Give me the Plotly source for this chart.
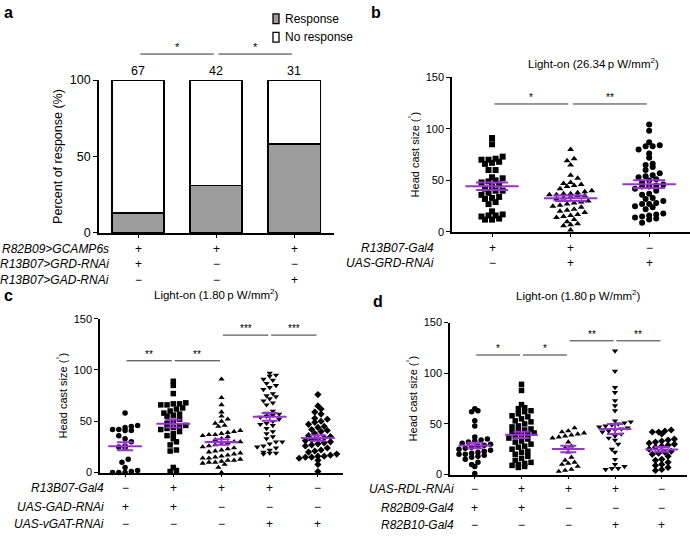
import numpy as np
import plotly.graph_objects as go

W, H = 690, 539
FONT = "Liberation Sans, Arial, Helvetica, sans-serif"
PURPLE = "#9b30d9"
GREY = "#9c9c9c"
MINUS = "\u2212"

# ---------------- data ----------------
# panel a
a_counts = [67, 42, 31]
a_response_pct = [13, 31, 58]
a_no_response_pct = [100 - v for v in a_response_pct]
a_rows = ["R82B09&gt;GCAMP6s", "R13B07&gt;GRD-RNAi", "R13B07&gt;GAD-RNAi"]
a_signs = [["+", "+", "+"], ["+", MINUS, MINUS], [MINUS, MINUS, "+"]]
a_sig = [(0, 1, 117, "*"), (1, 2, 117, "*")]

# panel b
b_title = "Light-on (26.34\u2009p W/mm<sup>2</sup>)"
b_g1 = [91, 85, 73, 71, 70, 70, 68, 67, 66, 60, 60, 53, 52, 50, 49, 48, 46, 44,
        42, 40, 40, 38, 36, 34, 33, 32, 29, 27, 20, 17, 16, 16, 15, 13, 12, 12]
b_g2 = [80, 71, 69, 65, 55, 52, 48, 47, 46, 45, 44, 42, 40, 39, 38, 37, 37, 36,
        36, 35, 35, 34, 33, 32, 30, 29, 28, 27, 26, 25, 24, 22, 21, 20, 19, 17,
        16, 15, 14, 12, 10, 8, 7, 6, 2]
b_g3 = [104, 98, 87, 84, 83, 83, 80, 76, 72, 66, 65, 63, 60, 57, 55, 54, 53, 51,
        50, 48, 46, 45, 44, 44, 42, 40, 37, 36, 33, 32, 30, 28, 27, 27, 25, 24,
        22, 18, 17, 16, 15, 14, 13, 12, 9]
b_rows = ["R13B07-Gal4", "UAS-GRD-RNAi"]
b_signs = [["+", "+", MINUS], [MINUS, "+", "+"]]
b_sig = [(0, 1, 124, "*"), (1, 2, 124, "**")]

# panel c
c_title = "Light-on (1.80\u2009p W/mm<sup>2</sup>)"
c_g1 = [58, 46, 45, 44, 42, 42, 41, 41, 36, 33, 30, 26, 25, 24, 13, 10, 5, 2, 1, 0, 0, 0]
c_g2 = [89, 85, 77, 68, 67, 67, 66, 66, 63, 62, 60, 58, 57, 56, 55, 52, 50, 48,
        46, 45, 44, 43, 42, 40, 38, 36, 33, 30, 27, 22, 21, 5, 2, 1]
c_g3 = [91, 73, 66, 59, 55, 52, 50, 48, 46, 45, 41, 40, 39, 38, 37, 37, 36, 35,
        33, 32, 30, 30, 29, 28, 27, 26, 25, 24, 23, 22, 21, 20, 19, 18, 17, 16,
        15, 14, 14, 13, 12, 12, 11, 10, 10, 9, 8, 5, 0]
c_g4 = [97, 95, 94, 91, 90, 87, 85, 83, 81, 77, 75, 74, 72, 70, 68, 66, 60, 58,
        57, 56, 55, 54, 52, 50, 48, 47, 46, 43, 40, 38, 35, 33, 30, 30, 28, 26,
        25, 24, 22, 20, 19, 19, 18]
c_g5 = [76, 65, 62, 59, 57, 53, 52, 50, 49, 47, 45, 44, 42, 41, 40, 38, 36, 35,
        34, 33, 32, 31, 30, 29, 28, 27, 26, 24, 22, 21, 20, 18, 17, 16, 16, 15,
        15, 14, 12, 8, 1]
c_rows = ["R13B07-Gal4", "UAS-GAD-RNAi", "UAS-vGAT-RNAi"]
c_signs = [[MINUS, "+", "+", "+", MINUS], ["+", "+", MINUS, MINUS, MINUS],
           [MINUS, MINUS, MINUS, "+", "+"]]
c_sig = [(0, 1, 109, "**"), (1, 2, 109, "**"), (2, 3, 134, "***"), (3, 4, 134, "***")]

# panel d
d_title = "Light-on (1.80\u2009p W/mm<sup>2</sup>)"
d_g1 = [65, 63, 62, 53, 48, 37, 35, 34, 33, 32, 31, 30, 29, 28, 27, 26, 25, 24,
        23, 22, 21, 20, 20, 19, 18, 17, 15, 12, 10, 8, 1]
d_g2 = [89, 83, 69, 66, 65, 63, 62, 60, 58, 57, 55, 53, 52, 50, 48, 47, 45, 44,
        43, 42, 41, 40, 39, 38, 36, 35, 33, 32, 30, 28, 27, 25, 23, 22, 20, 18,
        16, 14, 12, 11, 10, 9, 8, 7]
d_g3 = [46, 43, 42, 41, 40, 39, 38, 37, 36, 32, 28, 26, 22, 17, 14, 12, 11, 10, 8, 5, 4, 3]
d_g4 = [122, 102, 86, 81, 73, 68, 63, 53, 52, 51, 50, 49, 48, 47, 46, 45, 44, 43,
        42, 40, 38, 36, 34, 30, 25, 22, 15, 10, 8, 6, 6, 5]
d_g5 = [44, 43, 42, 42, 40, 35, 34, 33, 32, 31, 30, 29, 28, 27, 25, 23, 22, 21,
        20, 18, 15, 14, 12, 10, 9, 7, 5, 4]
d_rows = ["UAS-RDL-RNAi", "R82B09-Gal4", "R82B10-Gal4"]
d_signs = [[MINUS, "+", "+", "+", MINUS], ["+", "+", MINUS, MINUS, MINUS],
           [MINUS, MINUS, MINUS, "+", "+"]]
d_sig = [(0, 1, 118, "*"), (1, 2, 118, "*"), (2, 3, 132, "**"), (3, 4, 132, "**")]


# ---------------- helpers ----------------
def px(x):
    return x / W


def py(y):
    return (H - y) / H


def swarm(vals, center, binw, dx):
    v = np.asarray(vals, float)
    bins = np.round(v / binw).astype(int)
    xs = np.zeros_like(v)
    for b in np.unique(bins):
        idx = np.where(bins == b)[0]
        idx = idx[np.argsort(v[idx])]
        n = len(idx)
        offs = (np.arange(n) - (n - 1) / 2.0) * dx
        xs[idx] = center + offs
    return xs


fig = go.Figure()

# ---- panel a: stacked bars ----
cats_a = list(range(len(a_counts)))
fig.add_trace(go.Bar(x=cats_a, y=a_response_pct, width=0.67, name="Response",
                     marker=dict(color=GREY, line=dict(color="black", width=1.6)),
                     xaxis="x", yaxis="y", showlegend=False, hoverinfo="skip"))
fig.add_trace(go.Bar(x=cats_a, y=a_no_response_pct, width=0.67, name="No response",
                     marker=dict(color="white", line=dict(color="black", width=1.6)),
                     xaxis="x", yaxis="y", showlegend=False, hoverinfo="skip"))


def add_swarm(groups, symbols, xa, ya, size, dx, binw, mean_hw, sem_w):
    marks, purple = [], []
    for i, (vals, sym) in enumerate(zip(groups, symbols)):
        v = np.array(vals, float)
        xs = swarm(v, i, binw, dx)
        marks.append(go.Scatter(x=xs, y=v, mode="markers", xaxis=xa, yaxis=ya,
                                marker=dict(symbol=sym, size=size, color="black",
                                            line=dict(width=0)),
                                cliponaxis=False, showlegend=False, hoverinfo="skip"))
        m = v.mean()
        s = v.std(ddof=1) / np.sqrt(len(v))
        purple.append(go.Scatter(x=[i - mean_hw, i + mean_hw], y=[m, m], mode="lines",
                                 line=dict(color=PURPLE, width=2), xaxis=xa, yaxis=ya,
                                 showlegend=False, hoverinfo="skip"))
        purple.append(go.Scatter(x=[i], y=[m], mode="markers",
                                 marker=dict(size=1, color="rgba(0,0,0,0)"),
                                 error_y=dict(type="data", array=[s], symmetric=True,
                                              color=PURPLE, thickness=2, width=sem_w),
                                 xaxis=xa, yaxis=ya, showlegend=False, hoverinfo="skip"))
    for t in marks + purple:
        fig.add_trace(t)


add_swarm([b_g1, b_g2, b_g3], ["square", "triangle-up", "circle"], "x2", "y2",
          6, 0.09, 5.5, 0.34, 16)
add_swarm([c_g1, c_g2, c_g3, c_g4, c_g5],
          ["circle", "square", "triangle-up", "triangle-down", "diamond"], "x3", "y3",
          5.5, 0.13, 5.5, 0.35, 8)
add_swarm([d_g1, d_g2, d_g3, d_g4, d_g5],
          ["circle", "square", "triangle-up", "triangle-down", "diamond"], "x4", "y4",
          5.5, 0.135, 5.5, 0.35, 8)


# ---------------- axes ----------------
def xax(domain, rng, n, anchor):
    return dict(domain=domain, range=rng, anchor=anchor, showgrid=False, zeroline=False,
                showline=True, linecolor="black", linewidth=1.6,
                tickmode="array", tickvals=list(range(n)), showticklabels=False,
                ticks="outside", ticklen=3, tickwidth=1, tickcolor="black",
                fixedrange=True)


def yax(domain, rng, tickvals, anchor, title, fsize):
    return dict(domain=domain, range=rng, anchor=anchor, showgrid=False, zeroline=False,
                showline=True, linecolor="black", linewidth=1.6,
                tickmode="array", tickvals=tickvals,
                ticks="outside", ticklen=4, tickwidth=1, tickcolor="black",
                tickfont=dict(family=FONT, size=fsize, color="black"),
                title=dict(text=title, font=dict(family=FONT, size=fsize, color="black"),
                           standoff=4),
                fixedrange=True)


HC = "Head cast size (<sup>°</sup>)"
fig.update_layout(
    width=W, height=H, margin=dict(l=0, r=0, t=0, b=0),
    paper_bgcolor="white", plot_bgcolor="white", barmode="stack", showlegend=False,
    font=dict(family=FONT, color="black"),
    xaxis=xax([px(99), px(334)], [-0.5, 2.51], 3, "y"),
    yaxis=yax([py(232), py(75)], [0, 100], [0, 50, 100], "x",
              "Percent of response (%)", 12.5),
    xaxis2=xax([px(452), px(690)], [-0.51, 2.52], 3, "y2"),
    yaxis2=yax([py(231), py(72)], [0, 150], [0, 50, 100, 150], "x2", HC, 11),
    xaxis3=xax([px(100), px(343)], [-0.52, 4.52], 5, "y3"),
    yaxis3=yax([py(478), py(320)], [0, 150], [0, 50, 100, 150], "x3", HC, 11),
    xaxis4=xax([px(450), px(687)], [-0.53, 4.54], 5, "y4"),
    yaxis4=yax([py(480), py(324)], [0, 150], [0, 50, 100, 150], "x4", HC, 11),
)

shapes, ann = [], []


def add_sig(sigs, xa, ya, ymax, fsize=10):
    for i, j, lvl, lab in sigs:
        shapes.append(dict(type="line", xref=xa, yref=ya + " domain",
                           x0=i + 0.03, x1=j - 0.03, y0=lvl / ymax, y1=lvl / ymax,
                           line=dict(color="#333", width=1)))
        ann.append(dict(xref=xa, yref=ya + " domain", x=(i + j) / 2, y=lvl / ymax,
                        text=lab, showarrow=False, xanchor="center", yanchor="bottom",
                        yshift=-1, font=dict(family=FONT, size=fsize, color="black")))


add_sig(a_sig, "x", "y", 100, 11)
add_sig(b_sig, "x2", "y2", 150)
add_sig(c_sig, "x3", "y3", 150)
add_sig(d_sig, "x4", "y4", 150)

# counts above bars (panel a)
for i, n in enumerate(a_counts):
    ann.append(dict(xref="x", yref="y domain", x=i, y=1.06, text=str(n), showarrow=False,
                    xanchor="center", yanchor="middle",
                    font=dict(family=FONT, size=12.5, color="black")))


def add_rows(rows, signs, xa, label_right, ys, fsize=12):
    for r, (lab, sg) in enumerate(zip(rows, signs)):
        ann.append(dict(xref="paper", yref="paper", x=px(label_right), y=py(ys[r]),
                        text="<i>" + lab + "</i>", showarrow=False, xanchor="right",
                        yanchor="middle", font=dict(family=FONT, size=fsize, color="black")))
        for i, s in enumerate(sg):
            ann.append(dict(xref=xa, yref="paper", x=i, y=py(ys[r]), text=s,
                            showarrow=False, xanchor="center", yanchor="middle",
                            font=dict(family=FONT, size=fsize, color="black")))


add_rows(a_rows, a_signs, "x", 111, [248, 264, 280], 12)
add_rows(b_rows, b_signs, "x2", 436, [247, 263], 12)
add_rows(c_rows, c_signs, "x3", 106, [494, 513, 531], 12)
add_rows(d_rows, d_signs, "x4", 456, [495, 514, 532], 12)

# titles
for txt, x, y in [(b_title, 593, 58), (c_title, 216, 295), (d_title, 578, 296)]:
    ann.append(dict(xref="paper", yref="paper", x=px(x), y=py(y), text=txt,
                    showarrow=False, xanchor="center", yanchor="middle",
                    font=dict(family=FONT, size=11.5, color="black")))

# panel letters
for L, x, y in [("a", 2, 6), ("b", 369, 6), ("c", 2, 296), ("d", 371, 302)]:
    ann.append(dict(xref="paper", yref="paper", x=px(x), y=py(y), text="<b>" + L + "</b>",
                    showarrow=False, xanchor="left", yanchor="middle",
                    font=dict(family=FONT, size=16, color="black")))

# legend (panel a)
for lab, fill, y in [("Response", GREY, 12), ("No response", "white", 31)]:
    shapes.append(dict(type="rect", xref="paper", yref="paper",
                       x0=px(273), x1=px(279), y0=py(y + 5), y1=py(y - 5),
                       fillcolor=fill, line=dict(color="black", width=1.3)))
    ann.append(dict(xref="paper", yref="paper", x=px(283), y=py(y), text=lab,
                    showarrow=False, xanchor="left", yanchor="middle",
                    font=dict(family=FONT, size=12, color="black")))

fig.update_layout(shapes=shapes, annotations=ann)
fig.write_html("out.html", config={"displayModeBar": False},
               post_script="document.body.style.margin='0px';"
                           "document.body.style.overflow='hidden';")
